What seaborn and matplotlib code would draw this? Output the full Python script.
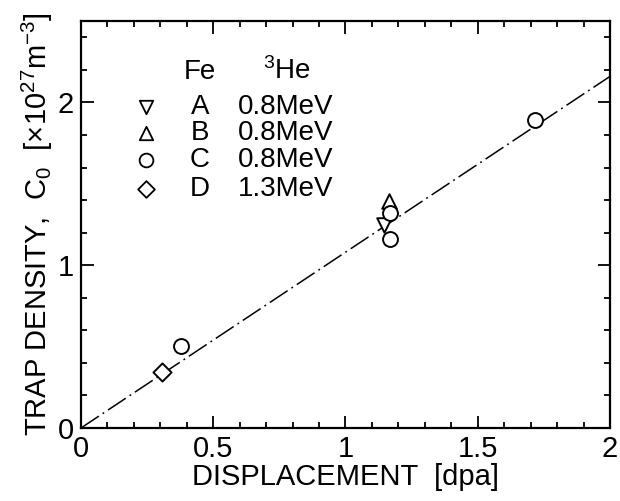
import matplotlib
matplotlib.use("Agg")
import matplotlib.pyplot as plt
import seaborn as sns
import pandas as pd
from matplotlib.ticker import MultipleLocator

sns.set_theme(style="ticks")
plt.rcParams['font.family'] = ['Liberation Sans', 'DejaVu Sans']
plt.rcParams['mathtext.fontset'] = 'custom'
plt.rcParams['mathtext.rm'] = 'Liberation Sans'
plt.rcParams['mathtext.it'] = 'Liberation Sans:italic'
plt.rcParams['text.color'] = 'black'
plt.rcParams['axes.labelcolor'] = 'black'
plt.rcParams['xtick.color'] = 'black'
plt.rcParams['ytick.color'] = 'black'

# data
groups = ["A", "B", "C", "C", "C", "C", "D"]
disp = [1.145, 1.164, 0.379, 1.168, 1.167, 1.716, 0.306]
density = [1.245, 1.395, 0.505, 1.323, 1.158, 1.89, 0.345]
fit_x = [0.0, 2.0]
fit_y = [0.0, 2.16]

legend_letters = ["A", "B", "C", "D"]
legend_energy = ["0.8MeV", "0.8MeV", "0.8MeV", "1.3MeV"]
markers = {"A": "v", "B": "^", "C": "o", "D": "D"}
marker_sizes = {"A": 110, "B": 110, "C": 115, "D": 85}

df = pd.DataFrame({"group": groups, "disp": disp, "density": density})
fit = pd.DataFrame({"x": fit_x, "y": fit_y})

fig = plt.figure(figsize=(6.2, 5.01), dpi=100)
ax = fig.add_axes([0.1306, 0.1457, 0.8533, 0.8123])

sns.lineplot(data=fit, x="x", y="y", ax=ax, color="black", lw=1.1,
             linestyle=(0, (14, 3, 1.2, 3)))

for g in ["A", "B", "C", "D"]:
    sub = df[df.group == g]
    sns.scatterplot(data=sub, x="disp", y="density", ax=ax, marker=markers[g],
                    s=marker_sizes[g], facecolor="white", edgecolor="black",
                    linewidth=1.4, zorder=3)

ax.set_xlim(0, 2)
ax.set_ylim(0, 2.5)
ax.xaxis.set_minor_locator(MultipleLocator(0.1))
ax.yaxis.set_minor_locator(MultipleLocator(0.2))
ax.set_xticks([0, 0.5, 1, 1.5, 2])
ax.set_xticklabels(["0", "0.5", "1", "1.5", "2"])
ax.set_yticks([0, 1, 2])
ax.set_yticklabels(["0", "1", "2"])
ax.tick_params(which="both", direction="in", top=True, right=True, width=1.3,
               labelsize=21, colors="black")
ax.tick_params(which="major", length=9, pad=5)
ax.tick_params(which="minor", length=4.5)
for sp in ax.spines.values():
    sp.set_linewidth(1.6)
    sp.set_color("black")

ax.set_xlabel("DISPLACEMENT  [dpa]", fontsize=21, labelpad=0)
ax.set_ylabel(r"TRAP DENSITY,  $\mathrm{C}_0$  [$\times$10$^{27}$m$^{-3}$]", fontsize=21, labelpad=2)

# legend
ax.text(0.225, 0.875, "Fe", transform=ax.transAxes, fontsize=20, ha="center", va="center")
ax.text(0.344, 0.877, r"$^3$He", transform=ax.transAxes, fontsize=20, ha="left", va="center")
rows_y = [0.789, 0.725, 0.658, 0.587]
for i, g in enumerate(legend_letters):
    ax.scatter([0.123], [rows_y[i]], transform=ax.transAxes, marker=markers[g],
               s=marker_sizes[g] * 0.85, facecolor="white", edgecolor="black", linewidth=1.3,
               zorder=4, clip_on=False)
    ax.text(0.225, rows_y[i], g, transform=ax.transAxes, fontsize=20, ha="center", va="center")
    ax.text(0.297, rows_y[i], legend_energy[i], transform=ax.transAxes, fontsize=20,
            ha="left", va="center")

fig.savefig("out.png", dpi=100)
